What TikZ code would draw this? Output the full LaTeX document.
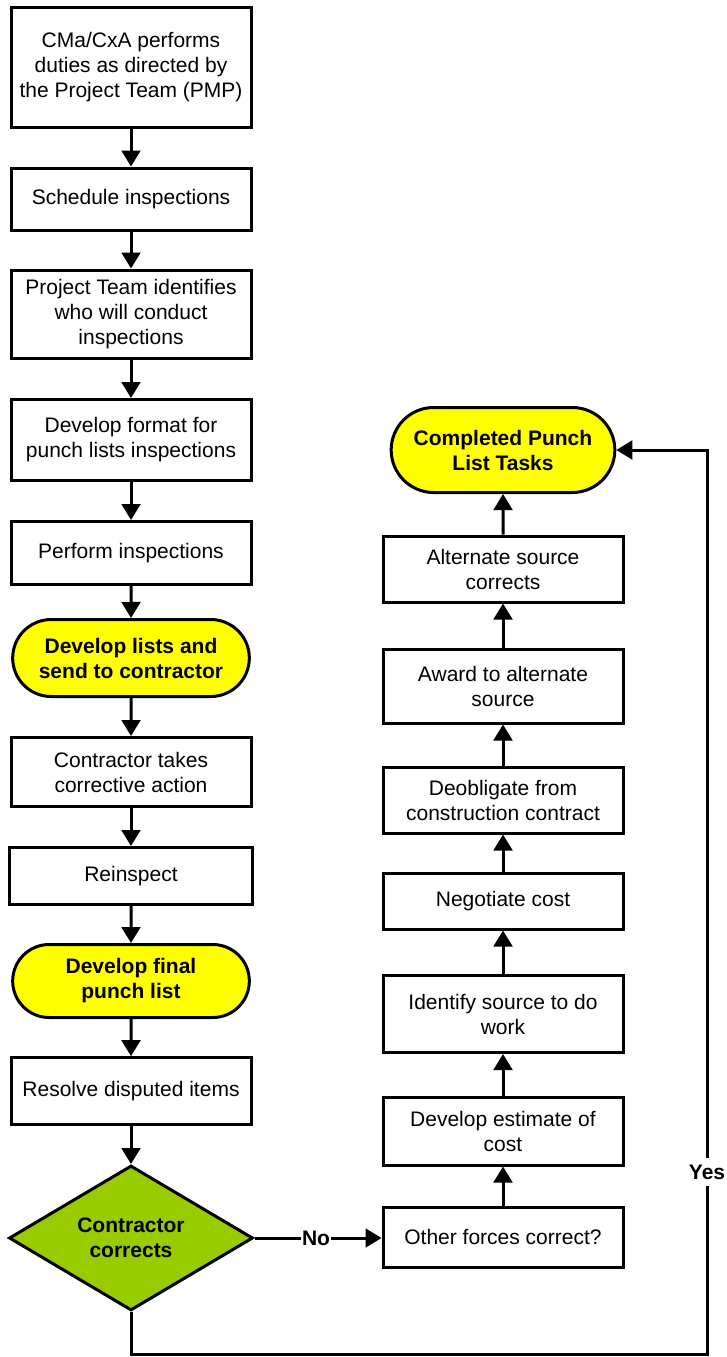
\documentclass[tikz,border=0pt]{standalone}
\usepackage{fontspec}
\setmainfont{Liberation Sans}
\usetikzlibrary{arrows.meta,shapes.geometric,shapes.misc}
\definecolor{yellowc}{HTML}{FFFF00}
\definecolor{greenc}{HTML}{99CC00}
\tikzset{
  base/.style={draw=black, line width=2.25pt, align=center, inner sep=2pt,
    font=\fontsize{15.75}{18.75}\selectfont},
  box/.style={base, rectangle, fill=white, minimum width=180pt},
  term/.style={base, rounded rectangle, fill=yellowc,
    font=\fontsize{15.75}{18.75}\selectfont\bfseries},
  decis/.style={base, diamond, fill=greenc, aspect=1.68, inner sep=0pt,
    font=\fontsize{15.75}{18.75}\selectfont\bfseries},
  arr/.style={line width=2.25pt, -{Triangle[length=12pt,width=14pt]}},
  plain/.style={line width=2.25pt},
  lbl/.style={fill=white, inner xsep=1pt, inner ysep=5pt,
    font=\fontsize{15.75}{18.75}\selectfont\bfseries}
}
\begin{document}
\begin{tikzpicture}[x=0.75pt,y=-0.75pt]
\useasboundingbox (0,0) rectangle (727,1357);
% left column
\node[box, minimum height=90pt] (n1) at (131,67) {CMa/CxA performs\\duties as directed by\\the Project Team (PMP)};
\node[box, minimum height=46.5pt] (n2) at (131,199) {Schedule inspections};
\node[box, minimum height=66pt] (n3) at (131,314) {Project Team identifies\\who will conduct\\inspections};
\node[box, minimum height=60.75pt] (n4) at (131,440) {Develop format for\\punch lists inspections};
\node[box, minimum height=47.25pt] (n5) at (131,553) {Perform inspections};
\node[term, minimum width=181.5pt, minimum height=57.75pt] (n6) at (131,658) {Develop lists and\\send to contractor};
\node[box, minimum height=51.75pt] (n7) at (131,772) {Contractor takes\\corrective action};
\node[box, minimum height=42.75pt, minimum width=182pt] (n8) at (131,876) {Reinspect};
\node[term, minimum width=181.5pt, minimum height=54.75pt] (n9) at (131,981) {Develop final\\punch list};
\node[box, minimum height=50pt] (n10) at (131,1091) {Resolve disputed items};
\node[decis, minimum width=183pt, minimum height=108.75pt] (dia) at (131,1238) {Contractor\\corrects};
% right column
\node[term, minimum width=171.75pt, minimum height=63.75pt] (r1) at (503,450) {Completed Punch\\List Tasks};
\node[box, minimum height=49.5pt] (r2) at (503,569) {Alternate source\\corrects};
\node[box, minimum height=55.5pt] (r3) at (503,686) {Award to alternate\\source};
\node[box, minimum height=49.5pt] (r4) at (503,800) {Deobligate from\\construction contract};
\node[box, minimum height=42pt] (r5) at (503,901) {Negotiate cost};
\node[box, minimum height=57.75pt] (r6) at (503,1014) {Identify source to do\\work};
\node[box, minimum height=51pt] (r7) at (503,1131) {Develop estimate of\\cost};
\node[box, minimum height=45pt] (r8) at (503,1237) {Other forces correct?};
% left arrows
\draw[arr] (n1) -- (n2);
\draw[arr] (n2) -- (n3);
\draw[arr] (n3) -- (n4);
\draw[arr] (n4) -- (n5);
\draw[arr] (n5) -- (n6);
\draw[arr] (n6) -- (n7);
\draw[arr] (n7) -- (n8);
\draw[arr] (n8) -- (n9);
\draw[arr] (n9) -- (n10);
\draw[arr] (n10) -- (dia);
% no branch
\draw[arr] (dia.east) -- (r8.west |- dia.east);
\node[lbl] (no) at (316,1238) {No};
% right arrows (upward)
\draw[arr] (r8) -- (r7);
\draw[arr] (r7) -- (r6);
\draw[arr] (r6) -- (r5);
\draw[arr] (r5) -- (r4);
\draw[arr] (r4) -- (r3);
\draw[arr] (r3) -- (r2);
\draw[arr] (r2) -- (r1);
% yes branch
\coordinate (c1) at (131,1354);
\coordinate (c2) at (707,1354);
\coordinate (c3) at (707,450);
\draw[arr] (dia.south) -- (c1) -- (c2) -- (c3) -- (r1.east);
\node[lbl] (yes) at (707,1172) {Yes};
\end{tikzpicture}
\end{document}
